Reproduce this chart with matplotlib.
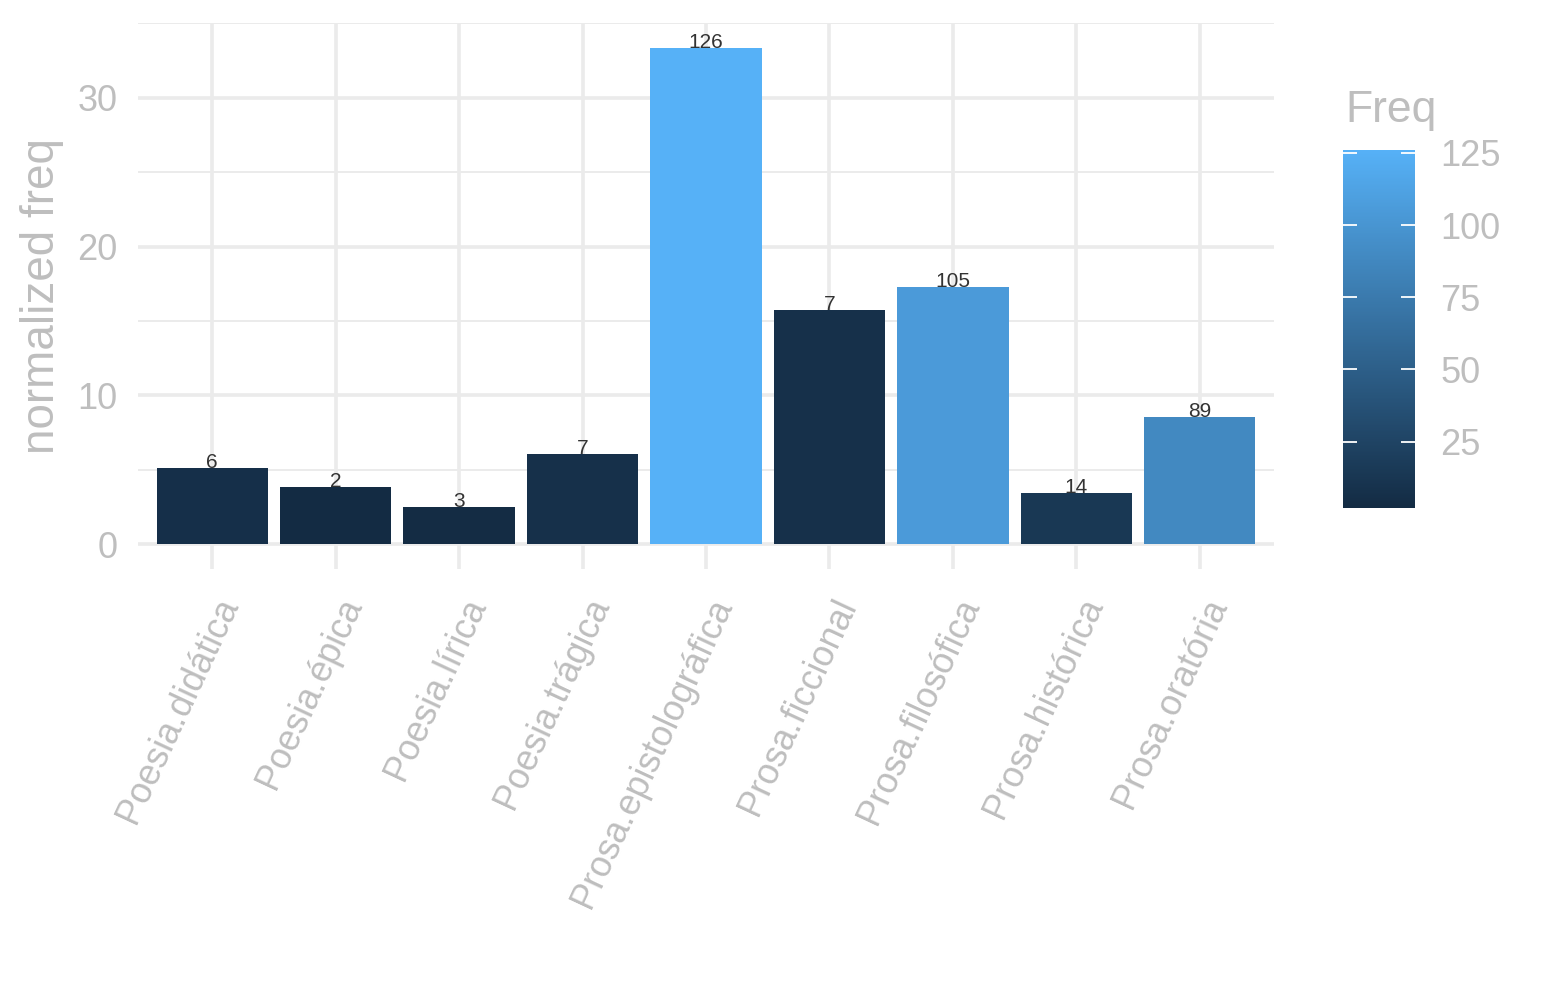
import numpy as np
import matplotlib.pyplot as plt
from matplotlib.colors import LinearSegmentedColormap, Normalize
from matplotlib.cm import ScalarMappable
from matplotlib.transforms import ScaledTranslation

plt.rcParams['font.family'] = ['Liberation Sans', 'DejaVu Sans']

categories = ["Poesia.didática", "Poesia.épica", "Poesia.lírica", "Poesia.trágica",
              "Prosa.epistolográfica", "Prosa.ficcional", "Prosa.filosófica",
              "Prosa.histórica", "Prosa.oratória"]
norm_freq = [5.11, 3.83, 2.49, 6.05, 33.36, 15.74, 17.30, 3.43, 8.54]
freq = [6, 2, 3, 7, 126, 7, 105, 14, 89]
cbar_ticks = [25, 50, 75, 100, 125]

grey = '#BEBEBE'
grid = '#EBEBEB'

cmap = LinearSegmentedColormap.from_list('gg', ['#132B43', '#56B1F7'])
cnorm = Normalize(vmin=min(freq), vmax=max(freq))

fig = plt.figure(figsize=(15.45, 10), dpi=100)
ax = fig.add_axes([138 / 1545, 1 - 569 / 1000, 1136 / 1545, 546 / 1000])

x = np.arange(1, len(categories) + 1)
ax.bar(x, norm_freq, width=0.9, color=cmap(cnorm(freq)), zorder=3)
for xi, v, f in zip(x, norm_freq, freq):
    ax.text(xi, v, str(f), ha='center', va='baseline', fontsize=15,
            color='#333333', zorder=4)

ax.set_xlim(0.4, len(categories) + 0.6)
ax.set_ylim(-1.67, 35.03)
ax.set_yticks([0, 10, 20, 30])
ax.set_yticks([5, 15, 25, 35], minor=True)
ax.set_xticks(x)
ax.set_xticklabels(categories, rotation=65, ha='right', va='center',
                   rotation_mode='anchor')
ax.grid(which='major', color=grid, lw=2.6, zorder=0)
ax.grid(which='minor', axis='y', color=grid, lw=1.4, zorder=0)
for s in ax.spines.values():
    s.set_visible(False)
ax.tick_params(axis='both', which='both', length=0, labelsize=26, labelcolor=grey)
ax.tick_params(axis='y', pad=15)
ax.tick_params(axis='x', pad=0)
off = ScaledTranslation(0.18, -0.31, fig.dpi_scale_trans)
for lab in ax.get_xticklabels():
    lab.set_transform(lab.get_transform() + off)

ax.set_ylabel("normalized freq", fontsize=33, color=grey)
ax.yaxis.set_label_coords((42 - 138) / 1136, 0.5)
ax.yaxis.label.set_verticalalignment('center')

# colour bar legend
cax = fig.add_axes([1343 / 1545, 1 - 508 / 1000, 72 / 1545, 358 / 1000])
sm = ScalarMappable(norm=cnorm, cmap=cmap)
cb = fig.colorbar(sm, cax=cax, ticks=cbar_ticks)
cb.outline.set_visible(False)
cax.tick_params(left=True, right=True, direction='in', length=10, width=1.3,
                color='white', labelsize=26, labelcolor=grey, pad=18)
fig.text(1345 / 1545, 1 - 122 / 1000, "Freq", fontsize=32, color=grey,
         ha='left', va='baseline')

fig.savefig('out.png', dpi=100, facecolor='white')
